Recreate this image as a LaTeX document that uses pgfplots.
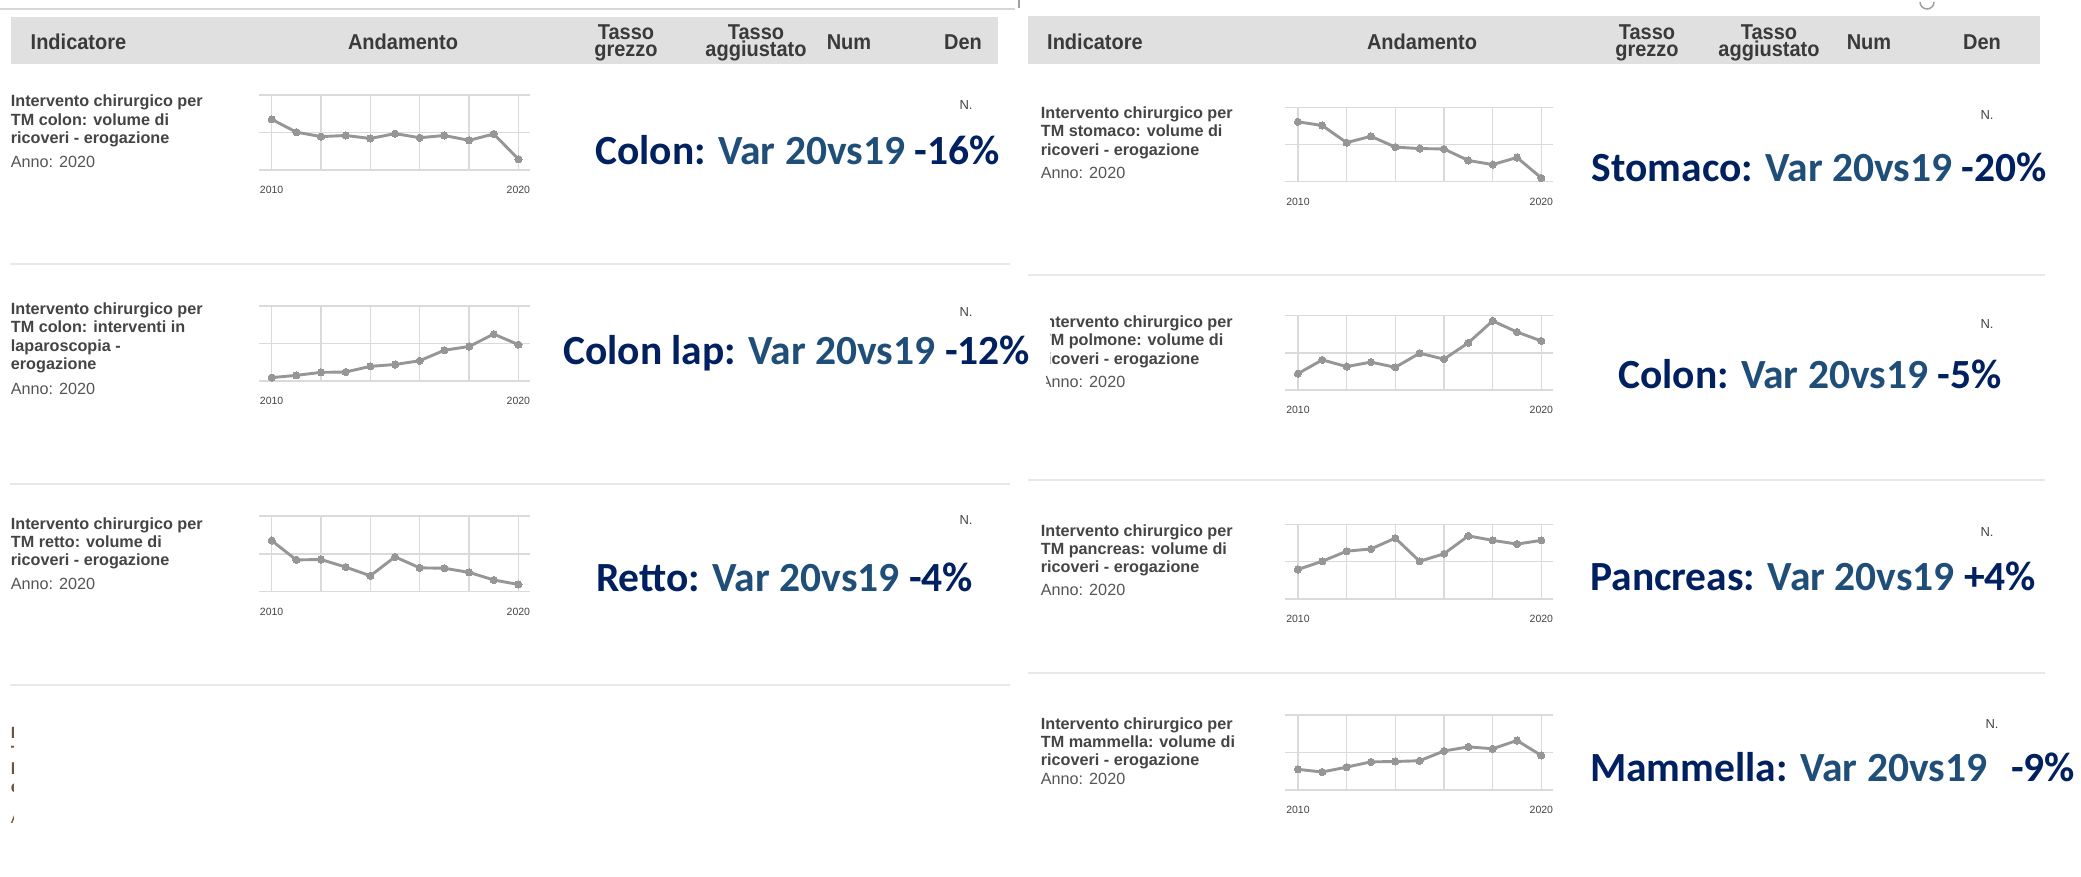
\documentclass[border=0pt]{standalone}
\usepackage{fontspec}
\usepackage{pgfplots}
\pgfplotsset{compat=1.18}
\setmainfont{Liberation Sans}
\newfontfamily\uifont{Liberation Sans}
\newfontfamily\hdrfont{Liberation Sans}[FakeStretch=0.93]
\newfontfamily\annfont{Carlito}
\definecolor{navy}{RGB}{0,32,96}
\definecolor{steel}{RGB}{31,78,121}
\definecolor{hdrbg}{RGB}{224,224,224}
\definecolor{hdrtxt}{RGB}{58,58,58}
\definecolor{indtxt}{RGB}{68,68,68}
\definecolor{annotxt}{RGB}{85,85,85}
\definecolor{gridc}{RGB}{218,218,218}
\definecolor{linec}{RGB}{150,150,150}
\definecolor{sepc}{RGB}{232,232,232}
\definecolor{ghost}{RGB}{110,80,60}
\definecolor{topl}{RGB}{215,215,215}
\definecolor{midg}{RGB}{160,160,160}

\newcommand\indF{\uifont\bfseries\fontsize{16.2bp}{19bp}\selectfont}
\newcommand\annoF{\uifont\fontsize{16.2bp}{19bp}\selectfont}
\newcommand\hdrF{\hdrfont\bfseries\fontsize{21.5bp}{24bp}\selectfont}
\newcommand\bigF{\annfont\bfseries\fontsize{41.5bp}{46bp}\selectfont}

\newcommand\indline[3]{\node[anchor=base west,inner sep=0,font=\indF,text=indtxt] at (#1,877-#2) {#3};}
\newcommand\annoline[2]{\node[anchor=base west,inner sep=0,font=\annoF,text=annotxt] at (#1,877-#2) {Anno: 2020};}
\newcommand\hc[3]{\node[anchor=base,inner sep=0,font=\hdrF,text=hdrtxt] at (#1,877-#2) {#3};}
\newcommand\bigann[4]{\node[anchor=base west,inner sep=0,font=\bigF] at (#1,877-#2) {\textcolor{navy}{#3} \textcolor{steel}{Var 20vs19} \textcolor{navy}{#4}};}
\newcommand\nlab[2]{\node[inner sep=0,font=\uifont\fontsize{13bp}{15bp}\selectfont,text=indtxt] at (#1,877-#2) {N.};}

\pgfplotsset{
 spark/.style={
  scale only axis, ymin=0, ymax=2,
  axis line style={draw=none},
  major tick length=0pt,
  xtick={0,2,4,6,8,10},
  xticklabels={2010,{},{},{},{},2020},
  ytick={0,1,2}, yticklabels={{},{},{}},
  grid=major,
  major grid style={draw=gridc, line width=1.5bp},
  xticklabel style={font=\uifont\fontsize{10.5bp}{12bp}\selectfont, text=indtxt, yshift=-12.5bp},
  clip=false,
 },
 sparkline/.style={draw=linec, line width=2.9bp, line join=round, mark=*, mark size=3.6bp, mark options={fill=linec, draw=linec, line width=0pt}},
 sparkL/.style={spark, xmin=-0.50, xmax=10.47, width=270.7bp},
 sparkR/.style={spark, xmin=-0.53, xmax=10.48, width=268bp},
}

\begin{document}
\begin{tikzpicture}
\begin{scope}[x=1bp,y=1bp]
\fill[white] (0,0) rectangle (2081,877);
\path[use as bounding box] (0,0) rectangle (2081,877);

% top line and headers
\draw[topl, line width=2bp] (0,877-9) -- (1015,877-9);
\draw[midg, line width=1.2bp] (1019,877) -- (1019,877-8);
\draw[midg, line width=1.5bp] (1920,877-2) arc[start angle=180, end angle=360, radius=7];
\fill[hdrbg] (10.6,877-17) rectangle (998,877-64);
\fill[hdrbg] (1028,877-16) rectangle (2040,877-64);

\node[anchor=base west,inner sep=0,font=\hdrF,text=hdrtxt] at (30.5,877-50) {Indicatore};
\hc{403}{50}{Andamento}
\hc{626}{39.8}{Tasso}\hc{626}{57}{grezzo}
\hc{756}{39.8}{Tasso}\hc{756}{57}{aggiustato}
\hc{849}{50}{Num}\hc{963}{50}{Den}

\node[anchor=base west,inner sep=0,font=\hdrF,text=hdrtxt] at (1047,877-50) {Indicatore};
\hc{1422}{50}{Andamento}
\hc{1647}{39.8}{Tasso}\hc{1647}{57}{grezzo}
\hc{1769}{39.8}{Tasso}\hc{1769}{57}{aggiustato}
\hc{1869}{50}{Num}\hc{1982}{50}{Den}

% separators
\foreach \yy in {264,484,685} {\draw[sepc, line width=1.5bp] (10,877-\yy) -- (1010,877-\yy);}
\foreach \yy in {275,480,673} {\draw[sepc, line width=1.5bp] (1028,877-\yy) -- (2045,877-\yy);}

% indicator texts left
\indline{10.7}{106.7}{Intervento chirurgico per}
\indline{10.7}{125.3}{TM colon: volume di}
\indline{10.7}{143.5}{ricoveri - erogazione}
\annoline{10.7}{167.7}

\indline{10.7}{314.5}{Intervento chirurgico per}
\indline{10.7}{333}{TM colon: interventi in}
\indline{10.7}{351.5}{laparoscopia -}
\indline{10.7}{370}{erogazione}
\annoline{10.7}{395}

\indline{10.7}{529.3}{Intervento chirurgico per}
\indline{10.7}{547.7}{TM retto: volume di}
\indline{10.7}{565.5}{ricoveri - erogazione}
\annoline{10.7}{589.3}

\begin{scope}
\clip (0,0) rectangle (13.5,877);
\node[anchor=base west,inner sep=0,font=\indF,text=ghost] at (10.7,877-738.5) {Intervento chirurgico per};
\node[anchor=base west,inner sep=0,font=\indF,text=ghost] at (10.7,877-757.5) {TM retto: interventi in};
\node[anchor=base west,inner sep=0,font=\indF,text=ghost] at (10.7,877-774.5) {laparoscopia -};
\node[anchor=base west,inner sep=0,font=\indF,text=ghost] at (10.7,877-793) {erogazione};
\node[anchor=base west,inner sep=0,font=\annoF,text=ghost] at (10.7,877-823.5) {Anno: 2020};
\end{scope}

% indicator texts right
\indline{1040.7}{118.7}{Intervento chirurgico per}
\indline{1040.7}{136.9}{TM stomaco: volume di}
\indline{1040.7}{155.3}{ricoveri - erogazione}
\annoline{1040.7}{178.7}

\indline{1040.7}{327.7}{Intervento chirurgico per}
\indline{1040.7}{346}{TM polmone: volume di}
\indline{1040.7}{364.3}{ricoveri - erogazione}
\annoline{1040.7}{387.7}
\fill[white] (1036,877-312) rectangle (1049.5,877-369);
\fill[white] (1036,877-373) rectangle (1046,877-392);

\indline{1040.7}{536.7}{Intervento chirurgico per}
\indline{1040.7}{554.5}{TM pancreas: volume di}
\indline{1040.7}{572.7}{ricoveri - erogazione}
\annoline{1040.7}{596}

\indline{1040.7}{729.3}{Intervento chirurgico per}
\indline{1040.7}{747.7}{TM mammella: volume di}
\indline{1040.7}{765.5}{ricoveri - erogazione}
\annoline{1040.7}{784.3}

% N. labels
\nlab{966}{105}\nlab{966}{312}\nlab{966}{520}
\nlab{1987}{115}\nlab{1987}{324}\nlab{1987}{532}\nlab{1992}{724}
\end{scope}

% sparklines (x = year - 2010)
\begin{axis}[sparkL, at={(259.3bp,707bp)}, anchor=south west, height=75bp]
\addplot[sparkline] coordinates {(0,1.35) (1,1.01) (2,0.89) (3,0.92) (4,0.84) (5,0.97) (6,0.86) (7,0.92) (8,0.79) (9,0.96) (10,0.29)};
\end{axis}
\begin{axis}[sparkL, at={(259.3bp,496bp)}, anchor=south west, height=75bp]
\addplot[sparkline] coordinates {(0,0.09) (1,0.15) (2,0.23) (3,0.24) (4,0.39) (5,0.44) (6,0.54) (7,0.82) (8,0.92) (9,1.25) (10,0.97)};
\end{axis}
\begin{axis}[sparkL, at={(259.3bp,285.3bp)}, anchor=south west, height=75.7bp]
\addplot[sparkline] coordinates {(0,1.35) (1,0.84) (2,0.85) (3,0.65) (4,0.42) (5,0.92) (6,0.63) (7,0.62) (8,0.51) (9,0.31) (10,0.19)};
\end{axis}
\begin{axis}[sparkR, at={(1285bp,695.3bp)}, anchor=south west, height=74.4bp]
\addplot[sparkline] coordinates {(0,1.61) (1,1.51) (2,1.05) (3,1.22) (4,0.93) (5,0.89) (6,0.88) (7,0.57) (8,0.46) (9,0.65) (10,0.10)};
\end{axis}
\begin{axis}[sparkR, at={(1285bp,487bp)}, anchor=south west, height=74.3bp]
\addplot[sparkline] coordinates {(0,0.44) (1,0.81) (2,0.63) (3,0.75) (4,0.61) (5,0.99) (6,0.83) (7,1.27) (8,1.86) (9,1.56) (10,1.32)};
\end{axis}
\begin{axis}[sparkR, at={(1285bp,278bp)}, anchor=south west, height=74.7bp]
\addplot[sparkline] coordinates {(0,0.79) (1,1.01) (2,1.28) (3,1.34) (4,1.63) (5,1.01) (6,1.21) (7,1.69) (8,1.57) (9,1.47) (10,1.57)};
\end{axis}
\begin{axis}[sparkR, at={(1285bp,87bp)}, anchor=south west, height=75bp]
\addplot[sparkline] coordinates {(0,0.55) (1,0.48) (2,0.61) (3,0.75) (4,0.76) (5,0.78) (6,1.04) (7,1.15) (8,1.10) (9,1.32) (10,0.92)};
\end{axis}

% big annotations
\begin{scope}[x=1bp,y=1bp]
\bigann{595}{165}{Colon:}{-16\%}
\bigann{563}{365}{Colon lap:}{-12\%}
\bigann{596}{592}{Retto:}{-4\%}
\bigann{1591.7}{182}{Stomaco:}{-20\%}
\bigann{1618}{389}{Colon:}{-5\%}
\bigann{1590}{591}{Pancreas:}{+4\%}
\node[anchor=base west,inner sep=0,font=\bigF] at (1590,877-782) {\textcolor{navy}{Mammella:} \textcolor{steel}{Var 20vs19}\hspace{0.35em} \textcolor{navy}{-9\%}};
\end{scope}
\end{tikzpicture}
\end{document}
